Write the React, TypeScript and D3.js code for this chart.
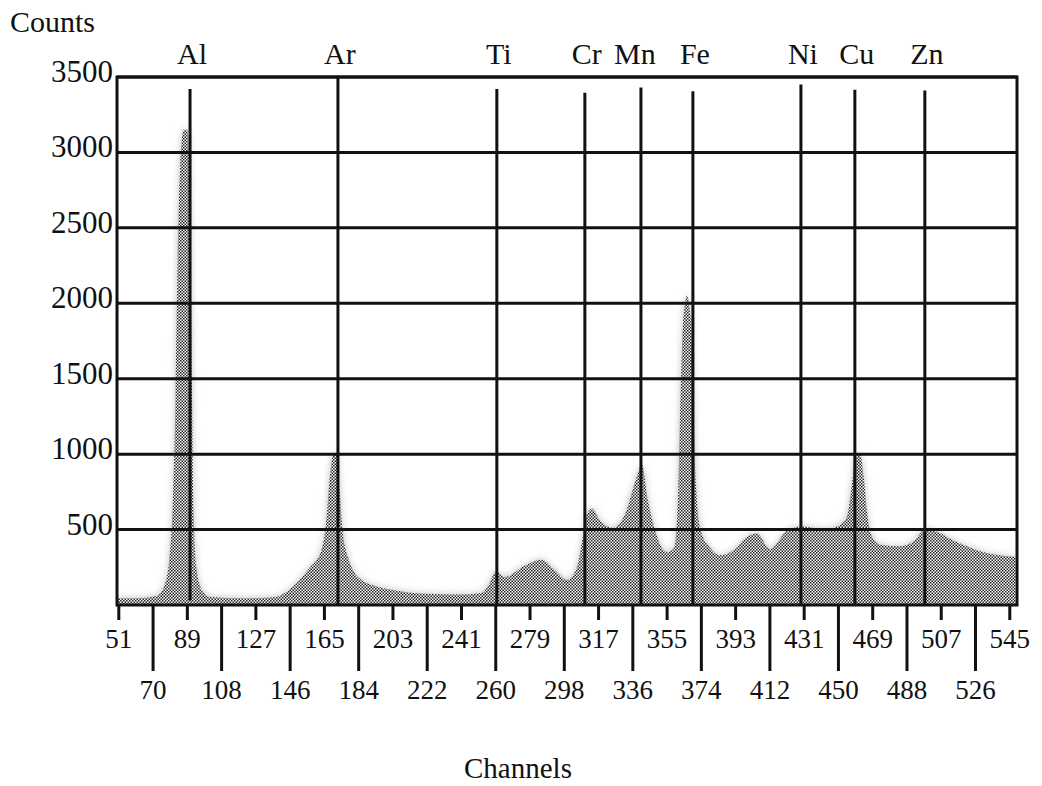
import React from 'react';
import * as d3 from 'd3';

// spectrum (channel, counts)
const CHANNELS = [
  50, 60, 72, 76, 79, 81, 82.5, 83.5, 85, 87, 89, 90.5, 91.5, 92.5, 94, 97, 101, 120, 135, 140, 150, 157,
  163, 166, 168, 170, 172, 173.5, 175, 178, 185, 195, 203, 220, 240, 252, 256, 260, 265, 276, 285.6,
  292.8, 299.4, 305, 308.3, 310.5, 313.3, 317.8, 325, 331.6, 338.2, 341, 344.3, 348.2, 354.9,
  359, 361, 362.5, 364, 366, 368, 369.5, 371, 373.5, 378.8, 384.4, 392.6, 398.1, 404.8, 412, 421.4,
  429.7, 442.5, 452, 455, 457.5, 459.5, 462, 464, 466, 468, 473, 484, 492.4, 497.9, 503.4, 513.4, 532.3, 548,
];
const COUNTS = [
  45, 45, 60, 120, 300, 700, 1400, 2200, 2900, 3150, 3150, 2700, 1500, 600, 250, 100, 55, 45, 50, 60, 150, 250,
  350, 550, 850, 1000, 1000, 750, 500, 320, 170, 120, 100, 75, 70, 80, 130, 220, 185, 260, 300,
  230, 165, 250, 450, 600, 640, 560, 510, 600, 850, 930, 700, 500, 350,
  380, 700, 1400, 1900, 2050, 1900, 1400, 800, 500, 380, 330, 370, 440, 475, 370, 490,
  520, 500, 540, 600, 800, 980, 1000, 850, 600, 470, 400, 390, 430, 500, 490, 430, 345, 320,
];

const ELEMENTS = ['Al', 'Ar', 'Ti', 'Cr', 'Mn', 'Fe', 'Ni', 'Cu', 'Zn'];
const ELEMENT_CHANNELS = [90.5, 172.5, 260.6, 309.4, 340.5, 369.3, 429.2, 459.1, 497.9];
const ELEMENT_LINE_TOP = [3420, 3500, 3420, 3395, 3430, 3405, 3450, 3415, 3410];

const Y_TICKS = [500, 1000, 1500, 2000, 2500, 3000, 3500];
const X_TICKS = [51, 70, 89, 108, 127, 146, 165, 184, 203, 222, 241, 260, 279, 298, 317, 336, 355, 374, 393, 412, 431, 450, 469, 488, 507, 526, 545];

const W = 1042;
const H = 786;
const FONT = '"Liberation Serif", "DejaVu Serif", serif';

export default function App() {
  const left = 117, right = 1017, top = 77, bottom = 605;
  const x = d3.scaleLinear().domain([50, 549]).range([left, right]);
  const y = d3.scaleLinear().domain([0, 3500]).range([bottom, top]);

  const pts = CHANNELS.map((c, i) => [c, COUNTS[i]] as [number, number]);
  const area = d3.area<[number, number]>()
    .x(d => x(d[0]))
    .y0(y(0))
    .y1(d => y(d[1]))
    .curve(d3.curveMonotoneX);

  const ink = '#111';

  return (
    <svg width={W} height={H} style={{ position: 'absolute', left: 0, top: 0, background: '#fff' }} fontFamily={FONT}>
      <defs>
        <pattern id="dots" width="3" height="3" patternUnits="userSpaceOnUse">
          <rect width="3" height="3" fill="#fff" />
          <rect x="0" y="0" width="1.5" height="1.5" fill="#222" />
          <rect x="1.5" y="1.5" width="1.5" height="1.5" fill="#222" />
        </pattern>
        <filter id="soft" x="-5%" y="-5%" width="110%" height="110%">
          <feGaussianBlur stdDeviation="3.5" />
        </filter>
        <clipPath id="plot">
          <rect x={left} y={top} width={right - left} height={bottom - top} />
        </clipPath>
      </defs>

      <g clipPath="url(#plot)">
        <path d={area(pts) || ''} fill="#bdbdbd" filter="url(#soft)" />
        <path d={area(pts) || ''} fill="url(#dots)" />
      </g>

      {/* horizontal grid */}
      {Y_TICKS.map(t => (
        <line key={t} x1={left} x2={right} y1={y(t)} y2={y(t)} stroke={ink} strokeWidth={3} />
      ))}

      {/* element lines */}
      {ELEMENTS.map((el, i) => (
        <line key={el} x1={x(ELEMENT_CHANNELS[i])} x2={x(ELEMENT_CHANNELS[i])}
          y1={y(ELEMENT_LINE_TOP[i])} y2={i === 0 ? y(30) : bottom} stroke={ink} strokeWidth={3} />
      ))}

      <rect x={left} y={top} width={right - left} height={bottom - top} fill="none" stroke={ink} strokeWidth={3} />

      {/* y labels */}
      {Y_TICKS.map(t => (
        <text key={t} x={left - 4} y={y(t) + 5} textAnchor="end" fontSize={31} fill={ink}>{t}</text>
      ))}
      <text x={10} y={32} fontSize={30} fill={ink}>Counts</text>

      {/* element labels */}
      {ELEMENTS.map((el, i) => (
        <text key={el} x={x(ELEMENT_CHANNELS[i]) + (el === 'Mn' ? -6 : 2)} y={64} textAnchor="middle" fontSize={30} fill={ink}>{el}</text>
      ))}

      {/* x ticks, alternating rows */}
      {X_TICKS.map((t, i) => {
        const up = i % 2 === 0;
        const tx = x(t);
        return (
          <g key={t}>
            <line x1={tx} x2={tx} y1={bottom} y2={up ? bottom + 15 : bottom + 66} stroke={ink} strokeWidth={3} />
            <text x={tx} y={up ? 648 : 699} textAnchor="middle" fontSize={27} fill={ink}>{t}</text>
          </g>
        );
      })}

      <text x={518} y={778} textAnchor="middle" fontSize={29} fill={ink}>Channels</text>
    </svg>
  );
}
